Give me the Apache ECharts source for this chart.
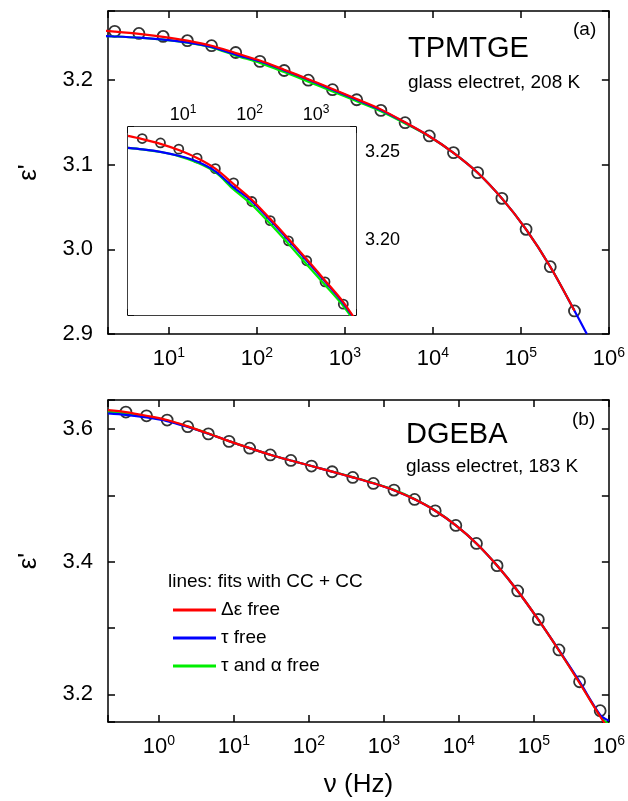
<!DOCTYPE html>
<html><head><meta charset="utf-8">
<script src="https://cdn.jsdelivr.net/npm/echarts@6/dist/echarts.min.js"></script>
<style>html,body{margin:0;padding:0;background:#fff}#c{width:628px;height:801px}</style>
</head><body><div id="c"></div>
<script>
// ---------- data ----------
// frequencies (Hz) of the measured points
const freqA = [2.42, 4.56, 8.59, 16.2, 30.5, 57.4, 108, 204, 384, 723, 1361, 2564, 4831, 9100, 17140, 32280, 60810, 114600, 215800, 406400];
const epsA  = [3.2575, 3.2550, 3.2515, 3.2465, 3.2405, 3.2325, 3.2220, 3.2112, 3.1998, 3.1886, 3.1767, 3.1641, 3.1496, 3.1339, 3.1142, 3.0906, 3.0602, 3.0236, 2.9795, 2.9272];
// fit curves, panel (a)
const fitFreqA = [1.48, 2.42, 4.56, 8.59, 16.2, 30.5, 57.4, 108, 204, 384, 723, 1361, 2564, 4831, 9100, 17140, 32280, 60810, 114600, 215800, 406400, 562000];
const redA   = [3.2590, 3.2572, 3.2545, 3.2510, 3.2465, 3.2405, 3.2318, 3.2230, 3.2122, 3.2010, 3.1894, 3.1775, 3.1653, 3.1500, 3.1336, 3.1140, 3.0905, 3.0602, 3.0236, 2.9795, 2.9275, null];
const blueA  = [3.2522, 3.2514, 3.2500, 3.2478, 3.2445, 3.2390, 3.2300, 3.2221, 3.2114, 3.2002, 3.1886, 3.1768, 3.1646, 3.1497, 3.1336, 3.1140, 3.0905, 3.0602, 3.0236, 2.9795, 2.9275, 2.9000];
const greenA = [3.2522, 3.2514, 3.2499, 3.2476, 3.2440, 3.2385, 3.2288, 3.2202, 3.2094, 3.1981, 3.1865, 3.1749, 3.1631, 3.1487, 3.1332, 3.1140, 3.0905, 3.0602, 3.0236, 2.9795, 2.9275, null];

const freqB = [0.362, 0.682, 1.285, 2.42, 4.56, 8.59, 16.2, 30.5, 57.4, 108, 204, 384, 723, 1361, 2564, 4831, 9100, 17140, 32280, 60810, 114600, 215800, 406400, 765600];
const epsB  = [3.6256, 3.6199, 3.6136, 3.6035, 3.5927, 3.5814, 3.5711, 3.5610, 3.5527, 3.5442, 3.5356, 3.5270, 3.5180, 3.5079, 3.4938, 3.4767, 3.4546, 3.4275, 3.3940, 3.3558, 3.3128, 3.2669, 3.2189, 3.1753];
// fit curves, panel (b)
const fitFreqB = [0.209, 0.362, 0.682, 1.285, 2.42, 4.56, 8.59, 16.2, 30.5, 57.4, 108, 204, 384, 723, 1361, 2564, 4831, 9100, 17140, 32280, 60810, 114600, 215800, 406400, 765600, 1000000];
const redB   = [3.6285, 3.6255, 3.6200, 3.6136, 3.6040, 3.5932, 3.5818, 3.5712, 3.5612, 3.5525, 3.5442, 3.5358, 3.5272, 3.5182, 3.5078, 3.4940, 3.4768, 3.4546, 3.4275, 3.3942, 3.3558, 3.3125, 3.2660, 3.2170, 3.1665, 3.1470];
const blueB  = [3.6237, 3.6215, 3.6175, 3.6120, 3.6030, 3.5930, 3.5818, 3.5712, 3.5612, 3.5525, 3.5442, 3.5358, 3.5272, 3.5182, 3.5078, 3.4940, 3.4768, 3.4546, 3.4275, 3.3942, 3.3558, 3.3125, 3.2665, 3.2190, 3.1690, 3.1600];
const greenB = [3.6260, 3.6235, 3.6187, 3.6128, 3.6036, 3.5931, 3.5818, 3.5712, 3.5612, 3.5525, 3.5442, 3.5360, 3.5275, 3.5186, 3.5083, 3.4946, 3.4772, 3.4548, 3.4275, 3.3942, 3.3558, 3.3125, 3.2662, 3.2180, 3.1675, 3.1540];

const seriesNames = ['\u0394\u03b5 free', '\u03c4 free', '\u03c4 and \u03b1 free'];
const lineColors = ['#ff0000', '#0000ff', '#00ee00'];

// axis ranges
const xRangeA = [2.03, 1000000];
const yRangeA = [2.9, 3.2815];
const xRangeB = [0.209, 1000000];
const yRangeB = [3.1582, 3.6438];
const xRangeIn = [1.48, 3980];
const yRangeIn = [3.158, 3.264];

// ---------- chart ----------
const FONT = '"Liberation Sans", Arial, Helvetica, sans-serif';
const pairs = (xs, ys) => xs.map((x, i) => [x, ys[i]]);

function logLabel(v) {
  const e = Math.log10(v);
  const r = Math.round(e);
  if (Math.abs(e - r) > 1e-6) return '';
  return '{b|10}{s|' + r + '}';
}
const axLine = { show: true, lineStyle: { color: '#000', width: 1.5 } };
const axTick = (len) => ({ show: true, inside: true, length: len, lineStyle: { color: '#000', width: 1.5 } });

function xAx(grid, range, pos, showLabel, big) {
  return {
    type: 'log', logBase: 10, gridIndex: grid, position: pos,
    min: range[0], max: range[1],
    axisLine: axLine, axisTick: axTick(big ? 7 : 6), splitLine: { show: false }, minorTick: { show: false },
    axisLabel: {
      show: showLabel, margin: big ? 12 : 5, formatter: logLabel, fontFamily: FONT, color: '#000',
      rich: big ? {
        b: { fontSize: 22, fontFamily: FONT, color: '#000', lineHeight: 22, padding: [3, 0, 0, 0] },
        s: { fontSize: 14, fontFamily: FONT, color: '#000', verticalAlign: 'top', lineHeight: 14 }
      } : {
        b: { fontSize: 18, fontFamily: FONT, color: '#000', lineHeight: 18, padding: [4, 0, 0, 0] },
        s: { fontSize: 12, fontFamily: FONT, color: '#000', verticalAlign: 'top', lineHeight: 12 }
      }
    }
  };
}
function yAx(grid, range, pos, showLabel, fmt, big) {
  return {
    type: 'value', gridIndex: grid, position: pos, min: range[0], max: range[1], splitNumber: 5,
    axisLine: axLine, axisTick: axTick(big ? 7 : 6), splitLine: { show: false },
    axisLabel: { show: showLabel, margin: big ? 15 : 9, formatter: fmt, fontSize: big ? 22 : 18, fontFamily: FONT, color: '#000' }
  };
}
const fmtA = v => (Math.abs(v * 10 - Math.round(v * 10)) < 1e-6 ? v.toFixed(1) : '');
const fmtB = v => (Math.abs(v * 5 - Math.round(v * 5)) < 1e-6 ? v.toFixed(1) : '');
const fmtIn = v => (Math.abs(v * 20 - Math.round(v * 20)) < 1e-6 ? v.toFixed(2) : '');

const xAxes = [
  xAx(0, xRangeA, 'bottom', true, true),
  xAx(0, xRangeA, 'top', false, true),
  Object.assign(xAx(1, xRangeB, 'bottom', true, true), {
    name: '\u03bd (Hz)', nameLocation: 'middle', nameGap: 50,
    nameTextStyle: { fontSize: 26, fontFamily: FONT, color: '#000' }
  }),
  xAx(1, xRangeB, 'top', false, true),
  xAx(2, xRangeIn, 'top', true, false),
  xAx(2, xRangeIn, 'bottom', false, false)
];
const yAxes = [
  Object.assign(yAx(0, yRangeA, 'left', true, fmtA, true), {
    name: "\u03b5'", nameLocation: 'middle', nameGap: 66,
    nameTextStyle: { fontSize: 26, fontFamily: FONT, color: '#000' }
  }),
  yAx(0, yRangeA, 'right', false, fmtA, true),
  Object.assign(yAx(1, yRangeB, 'left', true, fmtB, true), {
    name: "\u03b5'", nameLocation: 'middle', nameGap: 66,
    nameTextStyle: { fontSize: 26, fontFamily: FONT, color: '#000' }
  }),
  yAx(1, yRangeB, 'right', false, fmtB, true),
  Object.assign(yAx(2, yRangeIn, 'left', false, fmtIn, false), { splitNumber: 2 }),
  Object.assign(yAx(2, yRangeIn, 'right', true, fmtIn, false), { splitNumber: 2 })
];

function pointSeries(xi, yi, xs, ys, size) {
  return {
    type: 'scatter', xAxisIndex: xi, yAxisIndex: yi, data: pairs(xs, ys), symbol: 'circle', symbolSize: size,
    itemStyle: { color: 'rgba(0,0,0,0)', borderColor: '#000', borderWidth: 1.8 }, z: 2, silent: true
  };
}
function fitSeries(xi, yi, name, color, xs, ys, z) {
  return {
    type: 'line', name: name, xAxisIndex: xi, yAxisIndex: yi, data: pairs(xs, ys), showSymbol: false,
    smooth: 0.3, lineStyle: { color: color, width: 2.2 }, itemStyle: { color: color }, z: z, silent: true, clip: true
  };
}
const series = [
  pointSeries(0, 0, freqA, epsA, 11),
  fitSeries(0, 0, seriesNames[2], lineColors[2], fitFreqA, greenA, 3),
  fitSeries(0, 0, seriesNames[1], lineColors[1], fitFreqA, blueA, 4),
  fitSeries(0, 0, seriesNames[0], lineColors[0], fitFreqA, redA, 5),
  pointSeries(2, 2, freqB, epsB, 11),
  fitSeries(2, 2, seriesNames[2], lineColors[2], fitFreqB, greenB, 3),
  fitSeries(2, 2, seriesNames[1], lineColors[1], fitFreqB, blueB, 4),
  fitSeries(2, 2, seriesNames[0], lineColors[0], fitFreqB, redB, 5),
  pointSeries(5, 4, freqA, epsA, 9),
  fitSeries(5, 4, seriesNames[2], lineColors[2], fitFreqA, greenA, 13),
  fitSeries(5, 4, seriesNames[1], lineColors[1], fitFreqA, blueA, 14),
  fitSeries(5, 4, seriesNames[0], lineColors[0], fitFreqA, redA, 15)
];
series[8].z = 12;

function txt(x, y, s, size) {
  return { type: 'text', x: x, y: y, z: 100, silent: true,
    style: { text: s, fontSize: size, fontFamily: FONT, fill: '#000', align: 'left', verticalAlign: 'middle' } };
}

const chart = echarts.init(document.getElementById('c'), null, { renderer: 'canvas' });
chart.setOption({
  animation: false,
  backgroundColor: '#fff',
  grid: [
    { left: 108, top: 11, width: 501, height: 323, containLabel: false },
    { left: 108, top: 400, width: 501, height: 322, containLabel: false },
    { left: 128, top: 127, width: 228, height: 188, show: true, backgroundColor: '#fff', borderWidth: 0, z: 10 }
  ],
  xAxis: xAxes,
  yAxis: yAxes,
  legend: {
    data: [seriesNames[0], seriesNames[1], seriesNames[2]],
    orient: 'vertical', left: 168, top: 595, itemWidth: 43, itemHeight: 3, itemGap: 8,
    icon: 'rect', selectedMode: false,
    textStyle: { fontSize: 19, fontFamily: FONT, color: '#000', lineHeight: 20 }
  },
  graphic: [
    txt(408, 49, 'TPMTGE', 29),
    txt(408, 83, 'glass electret, 208 K', 19),
    txt(573, 30, '(a)', 19),
    txt(406, 435, 'DGEBA', 29),
    txt(406, 467, 'glass electret, 183 K', 19),
    txt(572, 420, '(b)', 19),
    txt(168, 582, 'lines: fits with CC + CC', 19)
  ],
  series: series
});
</script>
</body></html>
